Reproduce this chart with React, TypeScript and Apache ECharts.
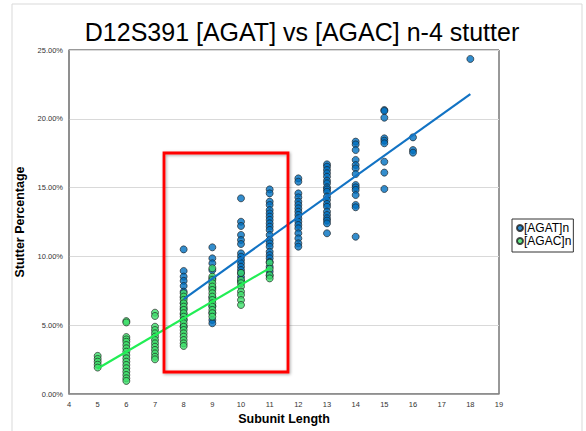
import React, { useEffect, useRef } from "react";
import * as echarts from "echarts";

const titleText = "D12S391 [AGAT] vs [AGAC] n-4 stutter";
const xTitle = "Subunit Length";
const yTitle = "Stutter Percentage";
const seriesNames = ["[AGAT]n", "[AGAC]n"];

const agatLengths = [8, 9, 10, 11, 12, 13, 14, 15, 16, 18];
const agatValues = [
  [10.51, 8.94, 8.53, 8.22, 7.85, 7.44, 7.0, 6.6, 6.2, 5.8, 5.4, 4.9],
  [10.66, 9.86, 9.5, 9.0, 8.4, 7.7, 7.0, 6.4, 5.9, 5.38, 5.14],
  [14.22, 12.52, 12.21, 11.56, 11.19, 10.9, 10.22, 9.98, 9.74, 9.5, 9.25, 9.01, 8.77, 8.5, 8.2],
  [14.87, 14.58, 13.98, 13.74, 13.37, 13.13, 12.89, 12.65, 12.4, 12.16, 11.92, 11.56, 11.19, 10.95, 10.71, 10.34, 10.1, 9.86, 9.6, 9.25, 8.89, 8.6],
  [15.67, 15.43, 14.58, 14.29, 13.98, 13.74, 13.49, 13.25, 13.01, 12.77, 12.52, 12.28, 12.04, 11.68, 11.31, 10.95, 10.71],
  [16.69, 16.52, 16.28, 16.04, 15.79, 15.5, 15.31, 15.02, 14.87, 14.7, 14.34, 14.1, 13.81, 13.61, 13.25, 13.01, 12.77, 12.6, 12.4, 11.68],
  [18.34, 18.14, 17.73, 17.01, 16.64, 16.4, 15.99, 15.19, 15.02, 14.83, 14.46, 13.74, 13.57, 11.43],
  [20.64, 20.57, 20.08, 18.58, 18.41, 18.22, 16.88, 16.09, 14.9],
  [18.65, 17.73, 17.54],
  [24.35],
];

const agacLengths = [5, 6, 7, 8, 9, 10, 11];
const agacValues = [
  [2.77, 2.55, 2.35, 2.13, 1.92],
  [5.3, 5.2, 4.14, 3.97, 3.8, 3.56, 3.32, 3.08, 2.83, 2.59, 2.35, 2.11, 1.87, 1.62, 1.38, 1.14, 0.95],
  [5.91, 5.67, 4.89, 4.65, 4.41, 4.17, 3.92, 3.68, 3.44, 3.2, 2.95, 2.71, 2.52],
  [7.32, 7.08, 6.84, 6.59, 6.35, 6.11, 5.87, 5.62, 5.38, 5.14, 4.89, 4.65, 4.41, 4.17, 3.92, 3.68, 3.49],
  [9.14, 8.53, 8.29, 8.05, 7.81, 7.56, 7.32, 7.08, 6.83, 6.59, 6.35, 6.11, 5.87, 5.62],
  [8.8, 8.29, 8.05, 7.81, 7.44, 7.2, 6.83, 6.47],
  [9.54, 9.1, 8.64, 8.4],
];

const agatTrend = [
  [8, 6.9],
  [18, 21.8],
];
const agacTrend = [
  [5, 1.85],
  [11, 9.15],
];

const xMin = 4;
const xMax = 19;
const yMin = 0;
const yMax = 25;
const yStep = 5;

const BLUE = "#0070C0";
const GREEN = "#3DE06A";
const FONT = "Liberation Sans, Arial, sans-serif";

function toPoints(lengths: number[], values: number[][]) {
  const pts: number[][] = [];
  lengths.forEach((len, i) => {
    values[i].forEach((v) => pts.push([len, v]));
  });
  return pts;
}

export default function App() {
  const ref = useRef<HTMLDivElement>(null);

  useEffect(() => {
    document.body.style.margin = "0";
    if (!ref.current) return;
    const chart = echarts.init(ref.current, undefined, { renderer: "svg" });
    const markerStyle = (color: string) => ({
      color,
      borderColor: "#1a1a1a",
      borderWidth: 0.8,
    });
    chart.setOption({
      animation: false,
      backgroundColor: "#ffffff",
      title: {
        text: titleText,
        left: 297,
        textAlign: "center",
        top: 14,
        textStyle: { fontFamily: FONT, fontSize: 25, fontWeight: "normal", color: "#000" },
      },
      legend: {
        left: 512,
        top: 219,
        orient: "vertical",
        data: seriesNames,
        icon: "circle",
        itemWidth: 6,
        itemHeight: 6,
        itemGap: 1,
        padding: [3, 2, 5, 4],
        borderColor: "#333",
        borderWidth: 1,
        textStyle: { fontFamily: FONT, fontSize: 12, color: "#000", padding: [0, 0, 0, -4] },
      },
      grid: {
        left: 69,
        top: 50,
        width: 430,
        height: 344,
        show: true,
        borderColor: "#333",
        borderWidth: 1,
        backgroundColor: "transparent",
      },
      xAxis: {
        type: "value",
        min: xMin,
        max: xMax,
        interval: 1,
        name: xTitle,
        nameLocation: "middle",
        nameGap: 18,
        nameTextStyle: { fontFamily: FONT, fontSize: 12.5, fontWeight: "bold", color: "#000" },
        axisLine: { show: true, lineStyle: { color: "#8c8c8c", width: 1.5 } },
        axisTick: { show: false },
        splitLine: { show: false },
        axisLabel: { fontFamily: FONT, fontSize: 7.5, color: "#333", margin: 6 },
      },
      yAxis: {
        type: "value",
        min: yMin,
        max: yMax,
        interval: yStep,
        name: yTitle,
        nameLocation: "middle",
        nameGap: 33,
        nameRotate: 90,
        nameTextStyle: { fontFamily: FONT, fontSize: 12.5, fontWeight: "bold", color: "#000" },
        axisLine: { show: true, lineStyle: { color: "#8c8c8c", width: 1.5 } },
        axisTick: { show: false },
        splitLine: { show: true, lineStyle: { color: "#d9d9d9", width: 1 } },
        axisLabel: {
          fontFamily: FONT,
          fontSize: 7.5,
          color: "#333",
          margin: 6,
          formatter: (v: number) => `${v.toFixed(2)}%`,
        },
      },
      series: [
        {
          name: seriesNames[0],
          type: "scatter",
          symbol: "circle",
          symbolSize: 7,
          itemStyle: markerStyle(BLUE),
          data: toPoints(agatLengths, agatValues),
        },
        {
          name: seriesNames[1],
          type: "scatter",
          symbol: "circle",
          symbolSize: 7,
          itemStyle: markerStyle(GREEN),
          data: toPoints(agacLengths, agacValues),
        },
        {
          name: "agatTrend",
          type: "line",
          symbol: "none",
          lineStyle: { color: "#1273C4", width: 2.2 },
          data: agatTrend,
        },
        {
          name: "agacTrend",
          type: "line",
          symbol: "none",
          lineStyle: { color: "#22EE55", width: 2.2 },
          data: agacTrend,
        },
      ],
      graphic: [
        {
          type: "polyline",
          shape: { points: [[12, 431], [12, 4], [582, 4], [582, 431]] },
          style: { stroke: "#d9d9d9", fill: "none", lineWidth: 1 },
          silent: true,
        },
        {
          type: "rect",
          shape: { x: 164, y: 153, width: 124, height: 219 },
          style: {
            stroke: "#ff0000",
            fill: "none",
            lineWidth: 2.8,
            shadowBlur: 3,
            shadowColor: "rgba(0,0,0,0.35)",
            shadowOffsetX: 1,
            shadowOffsetY: 1,
          },
          z: 100,
          silent: true,
        },
      ],
    });
    return () => chart.dispose();
  }, []);

  return <div ref={ref} style={{ width: 586, height: 431 }} />;
}
